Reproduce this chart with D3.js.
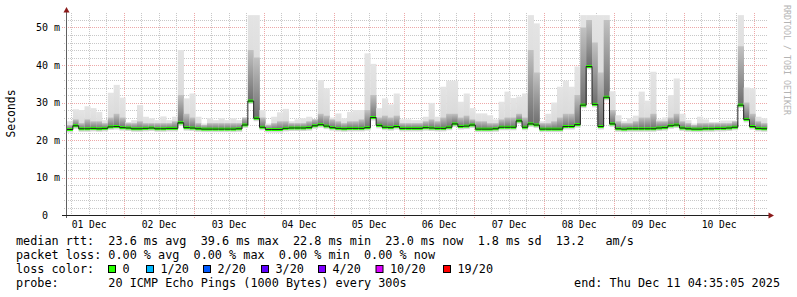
<!DOCTYPE html>
<html>
<head>
<meta charset="utf-8">
<script src="https://cdn.jsdelivr.net/npm/d3@7"></script>
<style>
  body { margin: 0; background: #fff; }
  svg text { font-family: "DejaVu Sans Mono", monospace; }
</style>
</head>
<body>
<script>
WIDTH = 797
HEIGHT = 297

// chart data, one value per 2 hour bin, starting Dec 1 04:35:05
var START = Date.UTC(2025, 11, 1, 4, 35, 5)
var BINHOURS = 2

// median rtt (ms)
var median = [
  22.8, 23.8, 23.0, 23.0, 23.1, 23.0, 23.1, 23.5, 23.6, 23.3, 23.2, 23.0, 23.0, 23.1, 23.2, 23.0, 23.0, 23.1, 23.1, 24.6, 23.3, 23.2, 23.0, 22.9,
  22.9, 22.9, 22.9, 22.9, 22.9, 23.0, 24.0, 30.4, 25.8, 23.4, 22.8, 22.8, 22.8, 23.1, 23.2, 23.2, 23.2, 23.3, 23.8, 24.1, 23.7, 23.3, 23.1, 23.0,
  23.1, 23.1, 23.1, 23.3, 26.0, 23.9, 23.4, 23.3, 23.6, 23.1, 23.1, 23.1, 23.1, 23.3, 23.2, 23.1, 23.1, 23.4, 24.3, 23.6, 23.7, 24.0, 22.9, 22.9,
  22.9, 23.0, 23.4, 23.4, 23.4, 25.1, 23.4, 24.3, 24.0, 22.9, 22.9, 22.9, 22.9, 23.6, 23.6, 24.1, 29.3, 39.6, 29.5, 23.6, 31.4, 24.3, 23.0, 22.9,
  23.0, 23.0, 23.0, 23.0, 23.0, 23.2, 23.3, 23.8, 24.0, 23.2, 23.0, 22.9, 22.9, 23.0, 23.0, 23.1, 23.1, 23.2, 23.4, 29.3, 25.5, 23.6, 23.1, 23.0
]

// upper edge of the light smoke (slowest pings, ms)
var smokeHi = [
  25.0, 28.2, 28.0, 29.0, 28.5, 27.5, 25.3, 32.6, 34.7, 31.3, 24.8, 25.3, 29.3, 26.2, 25.8, 25.3, 26.3, 25.3, 26.2, 44.0, 31.1, 32.4, 26.2, 24.4,
  25.8, 25.3, 25.8, 25.3, 25.8, 25.3, 25.5, 53.3, 53.3, 28.0, 24.4, 26.2, 27.4, 28.3, 25.0, 25.5, 25.8, 26.2, 25.6, 36.0, 33.8, 26.0, 27.1, 25.8,
  27.5, 28.0, 28.0, 43.1, 40.3, 28.5, 31.1, 29.5, 32.4, 25.5, 25.5, 25.3, 25.3, 26.2, 29.9, 26.2, 34.2, 35.8, 35.8, 30.2, 32.4, 28.5, 27.1, 27.1,
  26.6, 25.5, 30.2, 32.9, 31.2, 31.6, 32.4, 53.3, 51.1, 25.0, 27.0, 30.0, 34.2, 35.8, 34.2, 39.6, 53.3, 53.3, 53.3, 53.3, 53.3, 33.0, 26.6, 25.0,
  25.8, 26.5, 32.9, 30.5, 38.2, 25.5, 26.0, 32.0, 36.4, 27.0, 25.3, 24.4, 26.2, 25.5, 24.8, 24.8, 25.2, 25.2, 25.2, 53.3, 34.0, 33.8, 26.2, 25.8
]

// upper edge of the darker smoke (ms)
var smokeMid = [
  24.0, 25.5, 24.5, 25.5, 25.0, 25.0, 24.5, 26.0, 27.0, 26.0, 24.5, 24.5, 25.0, 24.5, 24.5, 24.5, 24.5, 24.5, 25.0, 32.0, 27.0, 26.0, 24.5, 24.0,
  24.5, 24.5, 24.5, 24.5, 24.5, 24.5, 26.0, 44.0, 42.0, 26.0, 24.0, 24.5, 25.0, 25.0, 24.5, 24.5, 24.5, 25.0, 25.5, 27.0, 26.5, 25.5, 25.0, 24.5,
  25.0, 25.0, 25.5, 28.0, 32.0, 26.0, 26.5, 26.0, 26.5, 24.5, 24.5, 24.5, 24.5, 25.0, 25.5, 25.0, 26.0, 27.0, 27.0, 26.0, 26.5, 25.5, 25.0, 25.0,
  24.5, 24.5, 25.5, 26.0, 26.0, 27.0, 26.0, 44.0, 38.0, 24.5, 24.5, 25.0, 26.0, 27.0, 27.0, 32.0, 50.0, 52.0, 46.0, 38.0, 52.0, 28.0, 25.0, 24.5,
  24.5, 25.0, 26.0, 26.0, 27.0, 25.0, 25.0, 26.0, 27.0, 25.0, 24.5, 24.0, 24.5, 24.5, 24.5, 24.5, 24.5, 24.5, 25.0, 45.0, 30.0, 27.0, 25.0, 24.5
]

var yTicks = [0, 10, 20, 30, 40, 50]
var lossLabels = ["0", "1/20", "2/20", "3/20", "4/20", "10/20", "19/20"]
var lossColors = ["#26ff00", "#00b8ff", "#0059ff", "#5e00ff", "#7e00ff", "#dd00ff", "#ff0000"]

var legendLines = [
  "median rtt:  23.6 ms avg  39.6 ms max  22.8 ms min  23.0 ms now  1.8 ms sd  13.2   am/s",
  "packet loss: 0.00 % avg  0.00 % max  0.00 % min  0.00 % now",
  "loss color:",
  "probe:       20 ICMP Echo Pings (1000 Bytes) every 300s"
]
var endText = "end: Thu Dec 11 04:35:05 2025"

// plot box
var LEFT = 67, RIGHT = 767, TOP = 14, BOTTOM = 215

var svg = d3.select("body").append("svg")
  .attr("width", WIDTH)
  .attr("height", HEIGHT)

svg.append("rect").attr("width", WIDTH).attr("height", HEIGHT).attr("fill", "#fff")

var t0 = new Date(START)
var t1 = d3.utcHour.offset(t0, median.length * BINHOURS)
var times = median.map(function(d, i) { return d3.utcHour.offset(t0, i * BINHOURS) })

var xscale = d3.scaleUtc().domain([t0, t1]).range([LEFT, RIGHT])
var yscale = d3.scaleLinear().domain([0, 53.6]).range([BOTTOM, TOP])

// gradients for the smoke
var defs = svg.append("defs")
function grad(id, top, bottom) {
  var g = defs.append("linearGradient").attr("id", id)
    .attr("x1", 0).attr("y1", 0).attr("x2", 0).attr("y2", 1)
  g.append("stop").attr("offset", "0%").attr("stop-color", top)
  g.append("stop").attr("offset", "100%").attr("stop-color", bottom)
}
grad("hiGrad", "#e4e4e4", "#d6d6d6")
grad("midGrad", "#c2c2c2", "#6e6e6e")

// grid lines (minor grey, major red)
var grid = svg.append("g")
d3.range(2, 54, 2).filter(function(v) { return v % 10 != 0 }).forEach(function(v) {
  grid.append("line")
    .attr("x1", 64).attr("x2", RIGHT)
    .attr("y1", Math.round(yscale(v)) + 0.5).attr("y2", Math.round(yscale(v)) + 0.5)
    .attr("stroke", "#c8c8c8").attr("stroke-dasharray", "1,1")
})
yTicks.slice(1).forEach(function(v) {
  grid.append("line")
    .attr("x1", 62).attr("x2", RIGHT)
    .attr("y1", Math.round(yscale(v)) + 0.5).attr("y2", Math.round(yscale(v)) + 0.5)
    .attr("stroke", "#eda8a8").attr("stroke-dasharray", "1,1")
})
d3.utcHour.every(6).range(t0, t1).forEach(function(t) {
  var major = t.getUTCHours() == 0
  var x = Math.round(xscale(t)) + 0.5
  grid.append("line")
    .attr("x1", x).attr("x2", x)
    .attr("y1", 13).attr("y2", major ? 218 : 217)
    .attr("stroke", major ? "#eda8a8" : "#c8c8c8").attr("stroke-dasharray", "1,1")
})

// smoke bars
var bins = svg.append("g").selectAll("g").data(median).enter().append("g")
function bx(i) { return xscale(times[i]) }
function bw(i) { return xscale(d3.utcHour.offset(times[i], BINHOURS)) - xscale(times[i]) }

bins.append("rect")
  .attr("x", function(d, i) { return bx(i) })
  .attr("width", function(d, i) { return bw(i) + 0.3 })
  .attr("y", function(d, i) { return yscale(smokeHi[i]) })
  .attr("height", function(d, i) { return yscale(d) - yscale(smokeHi[i]) + 3 })
  .attr("fill", "url(#hiGrad)")
bins.append("rect")
  .attr("x", function(d, i) { return bx(i) })
  .attr("width", function(d, i) { return bw(i) + 0.3 })
  .attr("y", function(d, i) { return yscale(smokeMid[i]) })
  .attr("height", function(d, i) { return yscale(d) - yscale(smokeMid[i]) })
  .attr("fill", "url(#midGrad)")

// median: dark step line, then green level segments
var stepPoints = times.map(function(t, i) { return [t, median[i]] })
stepPoints.push([t1, median[median.length - 1]])
var line = d3.line()
  .x(function(d) { return xscale(d[0]) })
  .y(function(d) { return yscale(d[1]) })
  .curve(d3.curveStepAfter)
svg.append("path").datum(stepPoints)
  .attr("d", line).attr("fill", "none")
  .attr("stroke", "#202020").attr("stroke-width", 1)
bins.append("line")
  .attr("x1", function(d, i) { return bx(i) })
  .attr("x2", function(d, i) { return bx(i) + bw(i) })
  .attr("y1", function(d) { return yscale(d) })
  .attr("y2", function(d) { return yscale(d) })
  .attr("stroke", lossColors[0]).attr("stroke-width", 3)

// y axis labels
var yAxis = d3.axisLeft(yscale)
  .tickValues(yTicks)
  .tickSize(0).tickPadding(0)
  .tickFormat(function(d) { return d == 0 ? "0  " : d + " m" })
var ya = svg.append("g").attr("transform", "translate(60,0)").call(yAxis)
ya.select(".domain").remove()
ya.selectAll("text")
  .attr("font-size", 10).attr("font-family", "DejaVu Sans Mono")
  .attr("fill", "#000").style("white-space", "pre")

// x axis labels at noon of each day
var noons = d3.utcDay.range(d3.utcDay.floor(t0), t1)
  .map(function(d) { return d3.utcHour.offset(d, 12) })
  .filter(function(d) { return d > t0 && d < t1 })
var xAxis = d3.axisBottom(xscale)
  .tickValues(noons)
  .tickSize(0).tickPadding(6)
  .tickFormat(d3.utcFormat("%d %b"))
var xa = svg.append("g").attr("transform", "translate(0," + BOTTOM + ")").call(xAxis)
xa.select(".domain").remove()
xa.selectAll("text")
  .attr("font-size", 9.7).attr("font-family", "DejaVu Sans Mono").attr("fill", "#000")

// axis lines with arrows
svg.append("line")
  .attr("x1", LEFT - 0.5).attr("x2", LEFT - 0.5)
  .attr("y1", 218).attr("y2", 10)
  .attr("stroke", "#606060").attr("stroke-width", 1)
svg.append("line")
  .attr("x1", 62).attr("x2", 770)
  .attr("y1", BOTTOM + 0.5).attr("y2", BOTTOM + 0.5)
  .attr("stroke", "#202020").attr("stroke-width", 1)
svg.append("path")
  .attr("d", "M63.5,12.5 L69.5,12.5 L66.5,7 Z").attr("fill", "#8b1a1a")
svg.append("path")
  .attr("d", "M768.5,212.5 L768.5,218.5 L774,215.5 Z").attr("fill", "#8b1a1a")

// vertical title
svg.append("text")
  .attr("transform", "translate(14.5,113.5) rotate(-90)")
  .attr("text-anchor", "middle")
  .attr("font-size", 11.4).attr("fill", "#000")
  .text("Seconds")

// watermark
svg.append("text")
  .attr("transform", "translate(783.5,5) rotate(90)")
  .attr("font-size", 8.3).attr("fill", "#b4b4b4")
  .text("RRDTOOL / TOBI OETIKER")

// legend
var LEG_X = 16, LEG_Y = [245, 259, 273, 287]
legendLines.forEach(function(s, i) {
  svg.append("text")
    .attr("x", LEG_X).attr("y", LEG_Y[i])
    .attr("font-size", 11.8).attr("fill", "#000")
    .attr("xml:space", "preserve").style("white-space", "pre")
    .text(s)
})
svg.append("text")
  .attr("x", 780).attr("y", LEG_Y[3])
  .attr("text-anchor", "end")
  .attr("font-size", 11.8).attr("fill", "#000")
  .text(endText)

var boxX = [108, 146, 203, 261, 318, 375.5, 443]
var lg = svg.append("g").selectAll("g").data(lossLabels).enter().append("g")
lg.append("rect")
  .attr("x", function(d, i) { return boxX[i] + 0.5 })
  .attr("y", 265.5).attr("width", 7).attr("height", 7)
  .attr("fill", function(d, i) { return lossColors[i] })
  .attr("stroke", "#000")
lg.append("text")
  .attr("x", function(d, i) { return boxX[i] + 14.5 })
  .attr("y", LEG_Y[2])
  .attr("font-size", 11.8).attr("fill", "#000")
  .text(function(d) { return d })
</script>
</body>
</html>
